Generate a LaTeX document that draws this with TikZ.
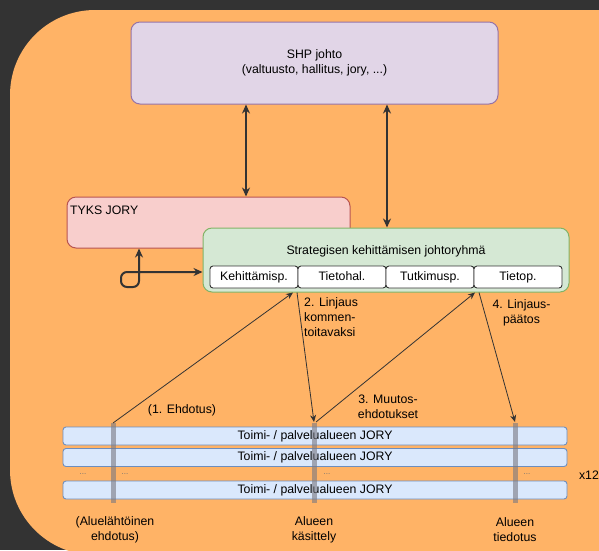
\documentclass[tikz,border=0pt]{standalone}
\usepackage{fontspec}
\setmainfont{Liberation Sans}
\usetikzlibrary{arrows.meta}
\definecolor{bgdark}{HTML}{333333}
\definecolor{orangebg}{HTML}{FFB366}
\definecolor{shpfill}{HTML}{E1D5E7}
\definecolor{shpdraw}{HTML}{9673A6}
\definecolor{tyksfill}{HTML}{F8CECC}
\definecolor{tyksdraw}{HTML}{B85450}
\definecolor{stratfill}{HTML}{D5E8D4}
\definecolor{stratdraw}{HTML}{82B366}
\definecolor{toimifill}{HTML}{DAE8FC}
\definecolor{toimidraw}{HTML}{6C8EBF}
\definecolor{arrowc}{HTML}{333333}
\tikzset{
  txt/.style={font=\fontsize{12.3}{15}\selectfont, text=black, inner sep=0pt},
  bigbox/.style={rounded corners=9pt, line width=1pt, inner sep=0pt},
  subbox/.style={draw=arrowc, fill=white, rounded corners=3pt, line width=0.9pt,
    minimum width=88pt, minimum height=22pt, inner sep=0pt, txt, text height=9pt, text depth=2.5pt},
  toimibox/.style={draw=toimidraw, fill=toimifill, rounded corners=3pt, line width=0.9pt,
    minimum width=504pt, minimum height=18pt, inner sep=0pt, txt, text height=9pt, text depth=2.5pt},
  thick arrow/.style={draw=arrowc, line width=2pt, {Stealth[length=9pt,width=8pt]}-{Stealth[length=9pt,width=8pt]}},
  thin arrow/.style={draw=arrowc, line width=0.8pt, -{Stealth[length=7pt,width=6pt]}},
  bar/.style={fill={rgb,255:red,120;green,120;blue,130}, fill opacity=0.6},
  dots/.style={font=\fontsize{8}{9}\selectfont, text=black!55, inner sep=0pt}
}
\begin{document}
\begin{tikzpicture}[x=1pt,y=-1pt]
\useasboundingbox (0,0) rectangle (599,550);
\fill[bgdark] (0,0) rectangle (599,550);
\begin{scope}
\clip (0,0) rectangle (599,550);
\fill[orangebg, rounded corners=85pt] (10,10) rectangle (720,555);
\end{scope}

% boxes
\node[bigbox, draw=shpdraw, fill=shpfill, minimum width=367pt, minimum height=82pt,
  txt, align=center] (shp) at (314.5,63) {SHP johto\\(valtuusto, hallitus, jory, ...)};
\node[bigbox, draw=tyksdraw, fill=tyksfill, minimum width=283pt, minimum height=51pt] (tyks) at (208.5,222.5) {};
\node[txt, anchor=west] (tykslabel) at (70,210) {TYKS JORY};
\node[bigbox, draw=stratdraw, fill=stratfill, minimum width=366pt, minimum height=64pt] (strat) at (386,260) {};
\node[txt] (stratlabel) at (386,251) {Strategisen kehittämisen johtoryhmä};
\node[subbox] (s1) at (254,277) {Kehittämisp.};
\node[subbox] (s2) at (342,277) {Tietohal.};
\node[subbox] (s3) at (430,277) {Tutkimusp.};
\node[subbox] (s4) at (518,277) {Tietop.};

% toimi rows
\node[toimibox] (t1) at (315,436) {Toimi- / palvelualueen JORY};
\node[toimibox] (t2) at (315,457.5) {Toimi- / palvelualueen JORY};
\node[toimibox] (t3) at (315,490) {Toimi- / palvelualueen JORY};
\node[dots] (d1) at (83,474) {...};
\node[dots] (d2) at (125,474) {...};
\node[dots] (d3) at (327,474) {...};
\node[dots] (d4) at (527,474) {...};
\node[txt] (x12) at (589,475) {x12};

% gray bars
\fill[bar] (111,423) rectangle (115.5,503);
\fill[bar] (312,423) rectangle (316.5,503);
\fill[bar] (513,423) rectangle (517.5,503);
\coordinate (b1) at (113,423);
\coordinate (b2) at (314,422);
\coordinate (b2s) at (316,422);
\coordinate (b3) at (515,422);

% thick arrows
\draw[thick arrow] (shp.south -| 246,0) -- (tyks.north -| 246,0);
\draw[thick arrow] (shp.south -| 387,0) -- (strat.north -| 387,0);
\draw[thick arrow, rounded corners=6pt] (tyks.south -| 139,0) -- (139,287) -- (121,287) -- (121,272) -- (strat.west |- 0,272);

% thin arrows
\draw[thin arrow] (b1) -- (strat.south -| 293,0);
\draw[thin arrow] (strat.south -| 297,0) -- (b2);
\draw[thin arrow] (b2s) -- (strat.south -| 475,0);
\draw[thin arrow] (strat.south -| 479,0) -- (b3);

% labels
\node[txt, anchor=west, align=left] (l2) at (304,317) {2. Linjaus\\kommen-\\toitavaksi};
\node[txt, align=center] (l4) at (521.5,313) {4. Linjaus-\\päätos};
\node[txt] (l1) at (182,410) {(1. Ehdotus)};
\node[txt, align=center] (l3) at (388,407) {3. Muutos-\\ehdotukset};
\node[txt, align=center] (bl1) at (115,530) {(Aluelähtöinen\\ehdotus)};
\node[txt, align=center] (bl2) at (314,530) {Alueen\\käsittely};
\node[txt, align=center] (bl3) at (515,530) {Alueen\\tiedotus};
\end{tikzpicture}
\end{document}
